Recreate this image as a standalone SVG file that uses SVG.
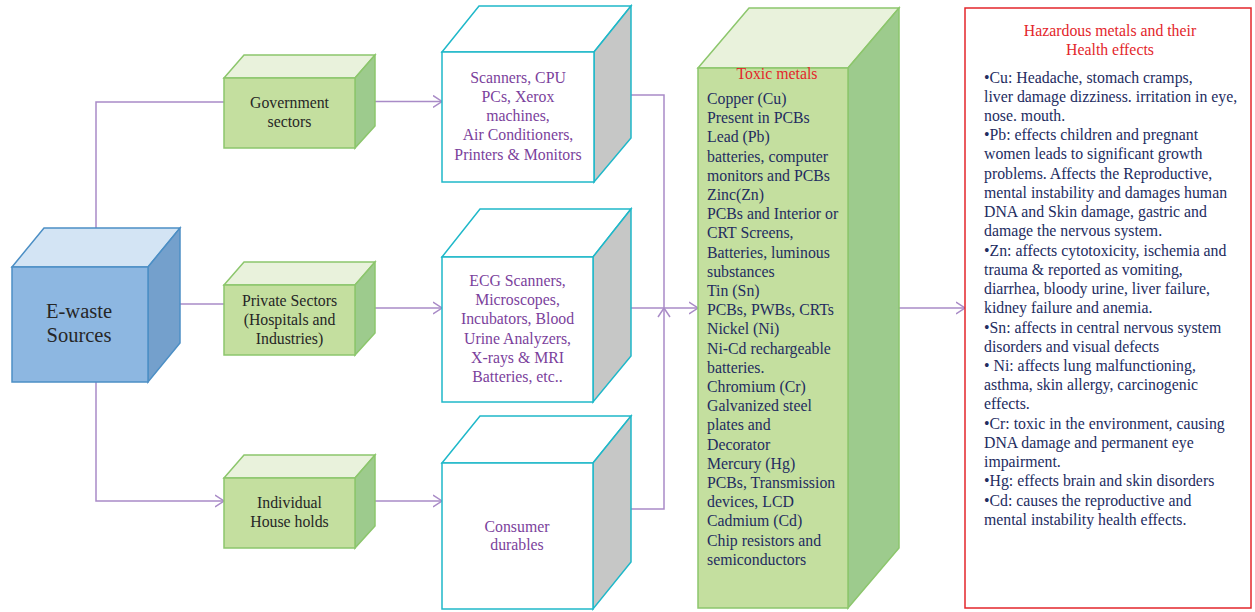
<svg xmlns="http://www.w3.org/2000/svg" width="1255" height="612" viewBox="0 0 1255 612">
<style>
.t{font-family:"Liberation Serif","Times New Roman",serif;font-size:15.8px}
.c{text-anchor:middle}
.dk{fill:#262626}
.pu{fill:#7b3f9c}
.nv{fill:#232c5f}
.rd{fill:#e3262b}
.conn{fill:none;stroke:#a98bc7;stroke-width:1.5}
.gf{fill:#c4df9f;stroke:#8cc66c;stroke-width:1.5}
.gt{fill:#e9f2dc;stroke:#8cc66c;stroke-width:1.5}
.gr{fill:#9dcb8d;stroke:#8cc66c;stroke-width:1.5}
.wf{fill:#ffffff;stroke:#1fb8c9;stroke-width:1.5}
.wr{fill:#c6c7c6;stroke:#1fb8c9;stroke-width:1.5}
.bf{fill:#8db7e1;stroke:#4c8fc5;stroke-width:1.5}
.bt{fill:#d3e4f4;stroke:#4c8fc5;stroke-width:1.5}
.br{fill:#74a0cc;stroke:#4c8fc5;stroke-width:1.5}
</style>
<defs>
<marker id="ar" markerUnits="userSpaceOnUse" viewBox="0 0 10 14" refX="9.5" refY="7" markerWidth="10" markerHeight="14" orient="auto">
<path d="M0.5,1 L9.5,7 L0.5,13" fill="none" stroke="#a98bc7" stroke-width="1.5"/>
</marker>
</defs>
<rect width="1255" height="612" fill="#ffffff"/>
<g id="connectors">
<path class="conn" d="M96,240 V102 H224"/>
<path class="conn" d="M175,304 H224"/>
<path class="conn" d="M96,370 V501 H224" marker-end="url(#ar)"/>
<path class="conn" d="M375,101.5 H442" marker-end="url(#ar)"/>
<path class="conn" d="M375,308 H442" marker-end="url(#ar)"/>
<path class="conn" d="M375,501 H442" marker-end="url(#ar)"/>
<path class="conn" d="M631,95 H664 V308"/>
<path class="conn" d="M631,509 H664 V308" marker-end="url(#ar)"/>
<path class="conn" d="M631,308 H698" marker-end="url(#ar)"/>
<path class="conn" d="M899,308 H965" marker-end="url(#ar)"/>
</g>
<g id="ewaste">
<polygon class="bt" points="12,267 44,228 180,228 148,267"/>
<polygon class="br" points="148,267 180,228 180,343 148,382"/>
<rect class="bf" x="12" y="267" width="136" height="115"/>
<text class="t c dk" x="79" y="318" style="font-size:20.5px">E-waste</text>
<text class="t c dk" x="79" y="342" style="font-size:20.5px">Sources</text>
</g>
<g id="gov">
<polygon class="gt" points="224,78 244,55 375,55 355,78"/>
<polygon class="gr" points="355,78 375,55 375,126 355,148"/>
<rect class="gf" x="224" y="78" width="131" height="70"/>
<text class="t c dk" x="289.5" y="108.3">Government</text>
<text class="t c dk" x="289.5" y="126.5">sectors</text>
</g>
<g id="private">
<polygon class="gt" points="224,285 244,262 375,262 355,285"/>
<polygon class="gr" points="355,285 375,262 375,333 355,355"/>
<rect class="gf" x="224" y="285" width="131" height="70"/>
<text class="t c dk" x="289.5" y="306">Private Sectors</text>
<text class="t c dk" x="289.5" y="325.2">(Hospitals and</text>
<text class="t c dk" x="289.5" y="344.4">Industries)</text>
</g>
<g id="households">
<polygon class="gt" points="224,478 244,455 375,455 355,478"/>
<polygon class="gr" points="355,478 375,455 375,526 355,548"/>
<rect class="gf" x="224" y="478" width="131" height="70"/>
<text class="t c dk" x="289.5" y="508.3">Individual</text>
<text class="t c dk" x="289.5" y="526.7">House holds</text>
</g>
<g id="scanners">
<polygon class="wf" points="442,52 479,6 631,6 594,52"/>
<polygon class="wr" points="594,52 631,6 631,138 594,182"/>
<rect class="wf" x="442" y="52" width="152" height="130"/>
<text class="t c pu" x="518" y="82.7">Scanners, CPU</text>
<text class="t c pu" x="518" y="101.9">PCs, Xerox</text>
<text class="t c pu" x="518" y="121.1">machines,</text>
<text class="t c pu" x="518" y="140.3">Air Conditioners,</text>
<text class="t c pu" x="518" y="159.5">Printers &amp; Monitors</text>
</g>
<g id="medical">
<polygon class="wf" points="442,257 480,209 631,209 593,257"/>
<polygon class="wr" points="593,257 631,209 631,356 593,402"/>
<rect class="wf" x="442" y="257" width="151" height="145"/>
<text class="t c pu" x="517.5" y="286">ECG Scanners,</text>
<text class="t c pu" x="517.5" y="305.2">Microscopes,</text>
<text class="t c pu" x="517.5" y="324.4">Incubators, Blood</text>
<text class="t c pu" x="517.5" y="343.6">Urine Analyzers,</text>
<text class="t c pu" x="517.5" y="362.8">X-rays &amp; MRI</text>
<text class="t c pu" x="517.5" y="382">Batteries, etc..</text>
</g>
<g id="consumer">
<polygon class="wf" points="442,463 480,416 631,416 593,463"/>
<polygon class="wr" points="593,463 631,416 631,562 593,609"/>
<rect class="wf" x="442" y="463" width="151" height="146"/>
<text class="t c pu" x="517" y="531.7">Consumer</text>
<text class="t c pu" x="517" y="549.5">durables</text>
</g>
<g id="toxic">
<polygon class="gt" points="698,68 749,8 899,8 848,68"/>
<polygon class="gr" points="848,68 899,8 899,548 848,608"/>
<rect class="gf" x="698" y="68" width="150" height="540"/>
<text class="t c rd" x="777" y="79">Toxic metals</text>
<g class="t nv">
<text x="707" y="104">Copper (Cu)</text>
<text x="707" y="123.2">Present in PCBs</text>
<text x="707" y="142.4">Lead (Pb)</text>
<text x="707" y="161.6">batteries, computer</text>
<text x="707" y="180.8">monitors and PCBs</text>
<text x="707" y="200">Zinc(Zn)</text>
<text x="707" y="219.2">PCBs and Interior or</text>
<text x="707" y="238.4">CRT Screens,</text>
<text x="707" y="257.6">Batteries, luminous</text>
<text x="707" y="276.8">substances</text>
<text x="707" y="296">Tin (Sn)</text>
<text x="707" y="315.2">PCBs, PWBs, CRTs</text>
<text x="707" y="334.4">Nickel (Ni)</text>
<text x="707" y="353.6">Ni-Cd rechargeable</text>
<text x="707" y="372.8">batteries.</text>
<text x="707" y="392">Chromium (Cr)</text>
<text x="707" y="411.2">Galvanized steel</text>
<text x="707" y="430.4">plates and</text>
<text x="707" y="449.6">Decorator</text>
<text x="707" y="468.8">Mercury (Hg)</text>
<text x="707" y="488">PCBs, Transmission</text>
<text x="707" y="507.2">devices, LCD</text>
<text x="707" y="526.4">Cadmium (Cd)</text>
<text x="707" y="545.6">Chip resistors and</text>
<text x="707" y="564.8">semiconductors</text>
</g>
</g>
<g id="health">
<rect x="965" y="8" width="286" height="600" fill="#ffffff" stroke="#e3262b" stroke-width="1.5"/>
<text class="t c rd" x="1110" y="35.7">Hazardous metals and their</text>
<text class="t c rd" x="1110" y="54.5">Health effects</text>
<g class="t nv">
<text x="984" y="82.5">•Cu: Headache, stomach cramps,</text>
<text x="984" y="101.7">liver damage dizziness. irritation in eye,</text>
<text x="984" y="121">nose. mouth.</text>
<text x="984" y="140.2">•Pb: effects children and pregnant</text>
<text x="984" y="159.4">women leads to significant growth</text>
<text x="984" y="178.7">problems. Affects the Reproductive,</text>
<text x="984" y="197.9">mental instability and damages human</text>
<text x="984" y="217.1">DNA and Skin damage, gastric and</text>
<text x="984" y="236.3">damage the nervous system.</text>
<text x="984" y="255.6">•Zn: affects cytotoxicity, ischemia and</text>
<text x="984" y="274.8">trauma &amp; reported as vomiting,</text>
<text x="984" y="294">diarrhea, bloody urine, liver failure,</text>
<text x="984" y="313.3">kidney failure and anemia.</text>
<text x="984" y="332.5">•Sn: affects in central nervous system</text>
<text x="984" y="351.7">disorders and visual defects</text>
<text x="984" y="371">• Ni: affects lung malfunctioning,</text>
<text x="984" y="390.2">asthma, skin allergy, carcinogenic</text>
<text x="984" y="409.4">effects.</text>
<text x="984" y="428.7">•Cr: toxic in the environment, causing</text>
<text x="984" y="447.9">DNA damage and permanent eye</text>
<text x="984" y="467.1">impairment.</text>
<text x="984" y="486.4">•Hg: effects brain and skin disorders</text>
<text x="984" y="505.6">•Cd: causes the reproductive and</text>
<text x="984" y="524.8">mental instability health effects.</text>
</g>
</g>
</svg>
